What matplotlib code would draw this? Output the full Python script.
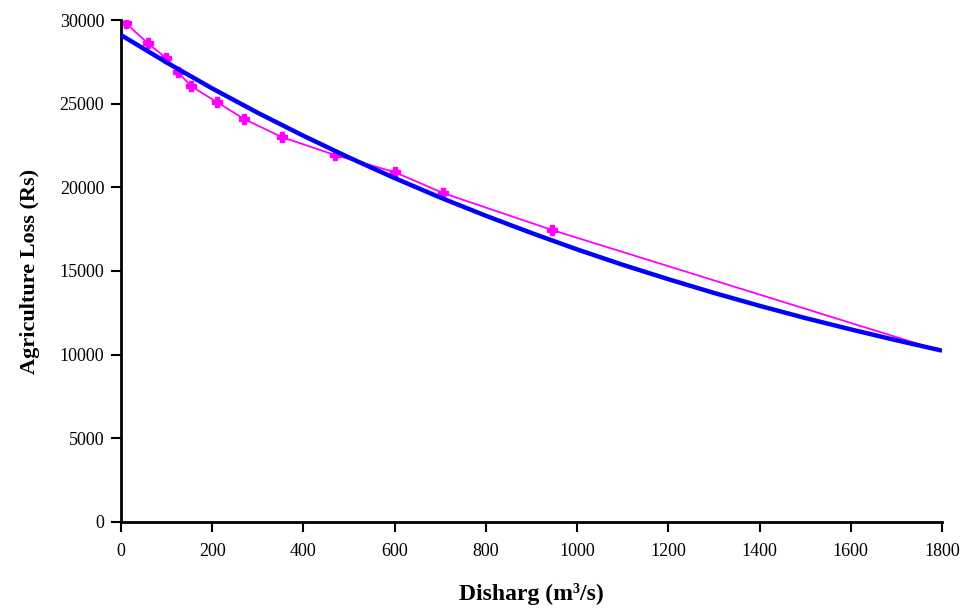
import matplotlib
matplotlib.use("Agg")
from matplotlib import pyplot as plt

# observed points (magenta series)
discharge = [11, 59, 99, 125, 153, 210, 270, 353, 469, 600, 706, 945, 1800]
loss = [29800, 28600, 27730, 26890, 26050, 25100, 24080, 23000, 21930,
        20910, 19660, 17450, 10200]

# fitted trend (blue curve), every 100 m3/s
trend_x = [0, 100, 200, 300, 400, 500, 600, 700, 800, 900, 1000,
           1100, 1200, 1300, 1400, 1500, 1600, 1700, 1800]
trend_y = [29100, 27460, 25910, 24450, 23080, 21780, 20550, 19390, 18300,
           17270, 16290, 15370, 14510, 13690, 12920, 12190, 11510, 10860,
           10240]

x_ticks = list(range(0, 1801, 200))
y_ticks = list(range(0, 30001, 5000))

plt.rcParams['font.family'] = ['Liberation Serif', 'DejaVu Serif']

fig = plt.figure(figsize=(9.69, 6.10), dpi=100)
ax = fig.add_axes([0.1249, 0.1443, 0.8472, 0.8229])

ax.plot(discharge, loss, color="#FF00FF", lw=1.3, marker="P", ms=7.5,
        markevery=list(range(len(discharge) - 1)), zorder=2)
ax.plot(trend_x, trend_y, color="#0000FF", lw=3.2, zorder=3,
        solid_capstyle="butt")

ax.set_xlim(0, 1800)
ax.set_ylim(0, 30000)
ax.set_xticks(x_ticks)
ax.set_yticks(y_ticks)
ax.tick_params(axis="both", labelsize=13, width=1.5, length=7,
               direction="out", color="black")
ax.tick_params(axis="x", pad=8)
ax.tick_params(axis="y", pad=5)

for side in ["top", "right"]:
    ax.spines[side].set_visible(False)
for side in ["left", "bottom"]:
    ax.spines[side].set_linewidth(2)

ax.set_xlabel("Disharg (m³/s)", fontsize=17, fontweight="bold", labelpad=17)
ax.set_ylabel("Agriculture Loss (Rs)", fontsize=16, fontweight="bold",
              labelpad=14)

fig.savefig("out.png", dpi=100)
